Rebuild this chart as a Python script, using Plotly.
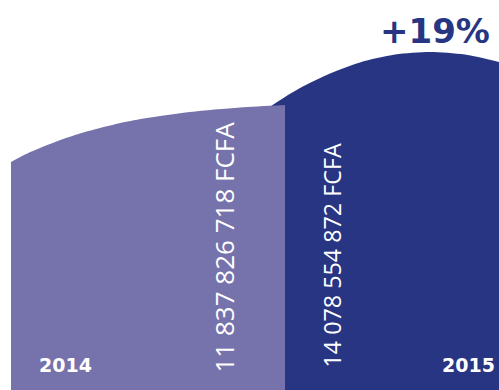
import plotly.graph_objects as go

# ---- data ----
years = ["2014", "2015"]
amounts = ["11 837 826 718 FCFA", "14 078 554 872 FCFA"]
growth_label = "+19%"

# top profile of each block (x position, height above baseline)
x_2014 = [11, 25, 50, 75, 100, 125, 150, 190, 240, 285]
h_2014 = [228, 235.5, 246, 255, 262, 268, 272.5, 278, 282.5, 285]
x_2015 = [268, 285, 300, 330, 360, 395, 430, 465, 499]
h_2015 = [282, 293, 302, 316.5, 327.5, 335.4, 338, 335.4, 328]

colors = ["#7672ab", "#283583"]

fig = go.Figure()
fig.add_trace(go.Scatter(x=x_2015, y=h_2015, mode="lines", fill="tozeroy",
                         line=dict(color=colors[1], width=0, shape="spline", smoothing=0.8),
                         fillcolor=colors[1], hoverinfo="skip"))
fig.add_trace(go.Scatter(x=x_2014, y=h_2014, mode="lines", fill="tozeroy",
                         line=dict(color=colors[0], width=0, shape="spline", smoothing=0.8),
                         fillcolor=colors[0], hoverinfo="skip"))

# vertical amount labels
fig.add_annotation(x=223, y=142.5, text=amounts[0], textangle=-90, showarrow=False,
                   xanchor="center", yanchor="middle",
                   font=dict(family="Open Sans", size=26, color="white"))
fig.add_annotation(x=331.5, y=134, text=amounts[1], textangle=-90, showarrow=False,
                   xanchor="center", yanchor="middle",
                   font=dict(family="Open Sans", size=23.3, color="white"))
# year labels
fig.add_annotation(x=65.5, y=25, text=years[0], showarrow=False,
                   xanchor="center", yanchor="middle",
                   font=dict(family="DejaVu Sans", size=19, color="white", weight="bold"))
fig.add_annotation(x=468.5, y=25, text=years[1], showarrow=False,
                   xanchor="center", yanchor="middle",
                   font=dict(family="DejaVu Sans", size=19, color="white", weight="bold"))
# growth label
fig.add_annotation(x=435, y=359.5, text=growth_label, showarrow=False,
                   xanchor="center", yanchor="middle",
                   font=dict(family="DejaVu Sans", size=34, color=colors[1], weight="bold"))

fig.update_layout(width=499, height=390, margin=dict(l=0, r=0, t=0, b=0),
                  paper_bgcolor="white", plot_bgcolor="white", showlegend=False,
                  xaxis=dict(range=[0, 499], visible=False, fixedrange=True),
                  yaxis=dict(range=[0, 390], visible=False, fixedrange=True))
fig.write_html("out.html")
